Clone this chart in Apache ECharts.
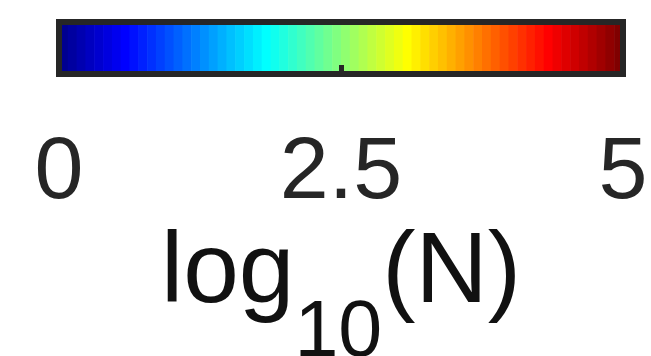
<!DOCTYPE html>
<html>
<head>
<meta charset="utf-8">
<script src="https://cdn.jsdelivr.net/npm/echarts@6/dist/echarts.min.js"></script>
<style>
  html, body { margin: 0; padding: 0; background: #ffffff; }
  #chart { width: 651px; height: 356px; }
</style>
</head>
<body>
<div id="chart"></div>
<script>
// Colour bar for log10(N), jet map in 64 levels
const valueRange = [0, 5];
const tickValues = [0, 2.5, 5];
const tickLabels = ['0', '2.5', '5'];
const levelCount = 64;
const jetStops = ['#000080', '#0000ff', '#0080ff', '#00ffff', '#80ff80',
                  '#ffff00', '#ff8000', '#ff0000', '#800000'];
const axisTitle = '{m|log}{s|10}{m|(N)}';

// each band [lo, hi] takes the map colour at its upper edge
const span = valueRange[1] - valueRange[0];
const bands = [];
for (let i = 0; i < levelCount; i++) {
  const lo = valueRange[0] + span * i / levelCount;
  const hi = valueRange[0] + span * (i + 1) / levelCount;
  bands.push([lo, hi, hi]);
}

const FONT = '"Liberation Sans", Arial, Helvetica, sans-serif';
const INK = '#262626';

const chart = echarts.init(document.getElementById('chart'), null, { renderer: 'canvas' });
chart.setOption({
  animation: false,
  backgroundColor: '#ffffff',
  grid: {
    left: 59, top: 22, width: 564, height: 52,
    outerBoundsMode: 'none',
    containLabel: false,
    show: true, z: 10,
    backgroundColor: 'transparent',
    borderColor: INK, borderWidth: 6
  },
  xAxis: {
    type: 'value',
    min: valueRange[0], max: valueRange[1], interval: 2.5,
    z: 5,
    splitLine: { show: false },
    axisLine: { show: false },
    axisTick: { show: true, inside: true, length: 9, lineStyle: { color: INK, width: 5 } },
    axisLabel: {
      show: true, margin: 56, color: INK, fontFamily: FONT,
      fontSize: 88, lineHeight: 88,
      showMinLabel: true, showMaxLabel: true,
      formatter: v => {
        const k = tickValues.indexOf(v);
        return k >= 0 ? tickLabels[k] : '';
      }
    },
    name: axisTitle,
    nameLocation: 'middle',
    nameGap: 150,
    nameTextStyle: {
      rich: {
        m: { fontSize: 100, lineHeight: 100, verticalAlign: 'top', fontFamily: FONT, color: '#111111' },
        s: { fontSize: 79, lineHeight: 79, verticalAlign: 'top', padding: [71, 0, 0, 0], fontFamily: FONT, color: '#111111' }
      }
    }
  },
  yAxis: { type: 'value', min: 0, max: 1, show: false },
  visualMap: {
    type: 'continuous', show: false,
    min: valueRange[0], max: valueRange[1],
    dimension: 2, seriesIndex: 0,
    inRange: { color: jetStops }
  },
  series: [{
    type: 'custom',
    encode: { x: [0, 1] },
    data: bands,
    renderItem: (params, api) => {
      const a = api.coord([api.value(0), 1]);
      const b = api.coord([api.value(1), 0]);
      return {
        type: 'rect',
        shape: { x: a[0], y: a[1], width: b[0] - a[0] + 0.6, height: b[1] - a[1] },
        style: { fill: api.visual('color') }
      };
    }
  }]
});
</script>
</body>
</html>
